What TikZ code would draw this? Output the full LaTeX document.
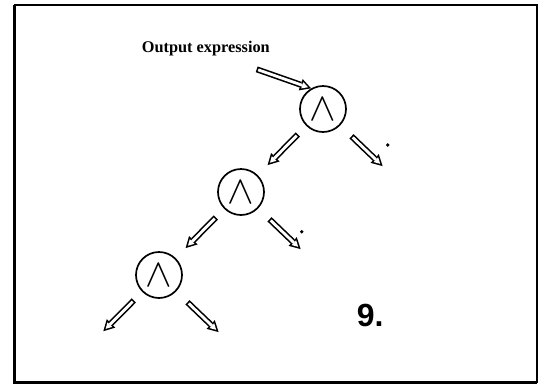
\documentclass[tikz,border=0pt]{standalone}
\usepackage{fontspec}
\usepackage{amsmath,amssymb}
\usepackage{tikz}
\usetikzlibrary{arrows.meta}
\newfontfamily\labelfont{Liberation Serif}
\newfontfamily\numfont{Liberation Sans}

\begin{document}
\begin{tikzpicture}[
  x=1pt,y=-1pt,
  gate/.style={draw,circle,line width=1.7pt,minimum size=46pt,inner sep=0pt,
    font=\fontsize{32}{32}\selectfont},
  hollow/.style 2 args={line width=6pt,shorten <=#1pt,shorten >=#2pt,
    -{Triangle[length=11pt,width=12pt,line width=0pt]},
    postaction={draw=white,line width=2.8pt,
      shorten <=#1pt+1.6pt,shorten >=#2pt+3.3pt,
      -{Triangle[length=6pt,width=6.6pt,line width=0pt]}}},
  dot/.style={fill,circle,minimum size=3.8pt,inner sep=0pt}]
\useasboundingbox (0,0) rectangle (539,384);
\draw[line width=1.8pt] (14.5,5) rectangle (537,382);
\draw[line width=3pt] (14.5,5) -- (14.5,382) -- (537,382);
\node[anchor=base west,inner sep=0pt,font=\labelfont\bfseries\fontsize{16.3}{18}\selectfont]
  (title) at (141.7,52.7) {Output expression};
\node[gate] (A) at (323,109) {\scalebox{1.6}[1.6]{$\wedge$}};
\node[gate] (B) at (241,192) {\scalebox{1.6}[1.6]{$\wedge$}};
\node[gate] (C) at (159,275) {\scalebox{1.6}[1.6]{$\wedge$}};
\node[dot] (A-dot) at (387.7,145) {};
\node[dot] (B-dot) at (301.7,231.7) {};
\node[anchor=base west,inner sep=0pt,font=\numfont\bfseries\fontsize{32}{34}\selectfont]
  (num) at (356.7,326.7) {9.};
\coordinate (in) at (256.7,69.3);
\coordinate (A-r) at (382.6,166.1);
\coordinate (B-r) at (300.6,249.1);
\coordinate (C-l) at (103.3,331.2);
\coordinate (C-r) at (218.6,332.1);
\draw[hollow={0}{0}] (in) -- (A.120);
\draw[hollow={12}{14}] (A) -- (B);
\draw[hollow={15.6}{0}] (A) -- (A-r);
\draw[hollow={12}{14}] (B) -- (C);
\draw[hollow={15.6}{0}] (B) -- (B-r);
\draw[hollow={12}{0}] (C) -- (C-l);
\draw[hollow={15.6}{0}] (C) -- (C-r);
\end{tikzpicture}
\end{document}
